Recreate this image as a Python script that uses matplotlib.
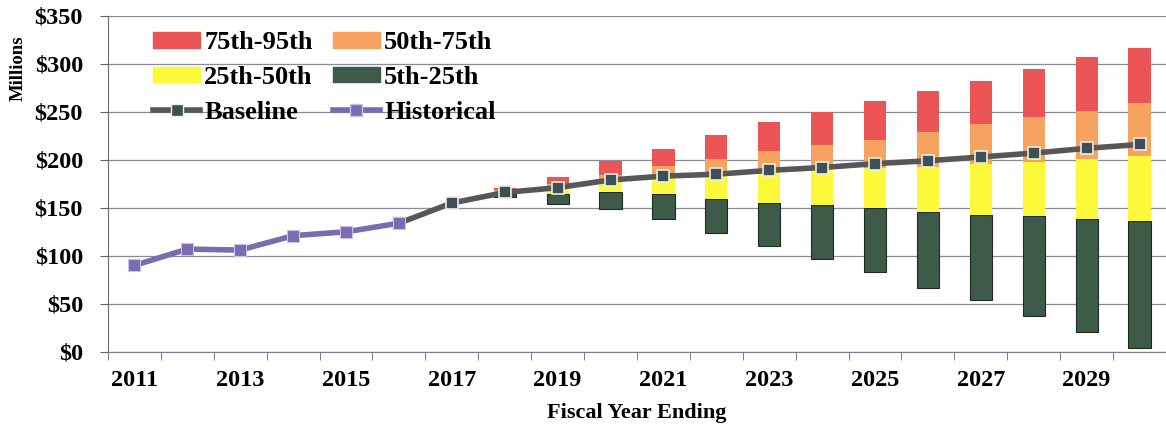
import numpy as np
import matplotlib
matplotlib.use('Agg')
import matplotlib.pyplot as plt
import matplotlib.ticker as ticker
from matplotlib.patches import Patch
from matplotlib.lines import Line2D

plt.rcParams['font.family'] = ['Liberation Serif', 'DejaVu Serif']
plt.rcParams['font.weight'] = 'bold'

# Años fiscales
anios = list(range(2011, 2031))

# Serie histórica (2011-2016) y proyección base (2016-2030), en millones
anios_hist = [2011, 2012, 2013, 2014, 2015, 2016]
historico = [90, 107, 106, 121, 125, 134]

anios_base = list(range(2016, 2031))
base = [134, 155, 166, 171, 179, 183, 185, 189, 192, 196, 199, 203, 207, 212, 216]

# Percentiles de la simulación (2018-2030)
anios_sim = list(range(2018, 2031))
p05 = [161, 154, 149, 138, 124, 110, 97, 83, 66, 54, 37, 21, 4]
p25 = [164, 164, 166, 164, 159, 155, 153, 150, 146, 143, 141, 138, 136]
p50 = [167, 172, 177, 184, 187, 188, 190, 191, 193, 196, 198, 201, 204]
p75 = [169, 175, 184, 194, 201, 209, 215, 221, 229, 237, 245, 251, 259]
p95 = [171, 182, 199, 211, 226, 239, 250, 261, 272, 282, 295, 307, 317]

etiquetas_rango = ['5th-25th', '25th-50th', '50th-75th', '75th-95th']
colores_rango = ['#3e5a48', '#fcf83a', '#f5a35e', '#ec5556']

fig = plt.figure(figsize=(11.66, 4.28), dpi=100)
ax = fig.add_axes([0.0926, 0.178, 0.9074, 0.785])

pos = lambda lista: [anios.index(a) for a in lista]
x_sim = pos(anios_sim)
ancho = 0.42

# Barras apiladas: cada tramo va del percentil inferior al superior
limites = [p05, p25, p50, p75, p95]
for i in range(4):
    inf = np.array(limites[i])
    sup = np.array(limites[i + 1])
    borde = '#1e2a22' if i == 0 else colores_rango[i]
    ax.bar(x_sim, sup - inf, bottom=inf, width=ancho, color=colores_rango[i],
           edgecolor=borde, linewidth=0.8 if i == 0 else 0, zorder=2)

ax.plot(pos(anios_base), base, color='#575757', lw=4, marker='s', ms=8,
        markerfacecolor='#3f4f55', markeredgecolor='#e8f0e0', markeredgewidth=1.2, zorder=4)
ax.plot(pos(anios_hist), historico, color='#7a6cae', lw=4, marker='s', ms=8,
        markerfacecolor='#7a6cae', markeredgecolor='#c8c0e8', markeredgewidth=0.8, zorder=5)

ax.set_xlim(-0.5, len(anios) - 0.5)
ax.set_ylim(0, 350)

# Eje y en millones de dólares
ax.yaxis.set_major_locator(ticker.MultipleLocator(50))
ax.yaxis.set_major_formatter(ticker.FuncFormatter(lambda y, p: r'\$%d' % y))
ax.grid(True, axis='y', color='#8a8a9a', lw=0.9, zorder=0)
ax.set_axisbelow(True)

# Marcas en los bordes de cada año, etiquetas cada dos años
ax.set_xticks(np.arange(-0.5, len(anios), 1.0), minor=True)
ax.set_xticks(range(0, len(anios), 2))
ax.set_xticklabels([str(a) for a in anios[::2]])
ax.tick_params(axis='x', which='major', length=0, pad=13, labelsize=17.5)
ax.tick_params(axis='x', which='minor', length=6, color='#666677', direction='out')
ax.tick_params(axis='y', length=6, color='#666666', labelsize=17.5, pad=12)

for lado in ['top', 'right']:
    ax.spines[lado].set_visible(False)
ax.spines['left'].set_color('#6a6a6a')
ax.spines['bottom'].set_color('#7a7a90')

ax.set_xlabel('Fiscal Year Ending', fontsize=16, fontweight='bold', labelpad=9)
fig.text(0.016, 0.84, 'Millions', rotation=90, fontsize=13.5, fontweight='bold',
         ha='center', va='center')

# Leyenda en dos columnas
manejadores = [Patch(color=colores_rango[3]), Patch(color=colores_rango[1]),
               Line2D([], [], color='#575757', lw=4, marker='s', ms=8,
                      markerfacecolor='#3f4f55', markeredgecolor='#e8f0e0'),
               Patch(color=colores_rango[2]), Patch(color=colores_rango[0]),
               Line2D([], [], color='#7a6cae', lw=4, marker='s', ms=8,
                      markerfacecolor='#7a6cae', markeredgecolor='#c8c0e8')]
textos = ['75th-95th', '25th-50th', 'Baseline', '50th-75th', '5th-25th', 'Historical']
ax.legend(manejadores, textos, ncol=2, frameon=False, loc='upper left',
          bbox_to_anchor=(0.025, 1.01), fontsize=19, handlelength=1.8,
          handleheight=0.55, handletextpad=0.15, columnspacing=0.75, labelspacing=0.45,
          borderaxespad=0.3)

plt.savefig('out.png', dpi=100)
